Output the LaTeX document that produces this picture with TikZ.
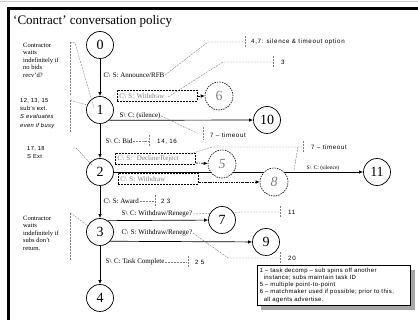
\documentclass[tikz,border=0pt]{standalone}
\usepackage{fontspec}
\setmainfont{Liberation Serif}
\setsansfont{Liberation Sans}
\newfontfamily\calfont[LetterSpace=10]{Liberation Sans}
\newfontfamily\legfont[LetterSpace=6]{Liberation Sans}
\usetikzlibrary{arrows.meta}
\pgfdeclarelayer{bg}
\pgfsetlayers{bg,main}
\newcommand\myC{C\textbackslash\hspace{2.5pt}}
\newcommand\myS{S\textbackslash\hspace{2.5pt}}
\tikzset{
 st/.style={circle, draw, line width=0.7pt, fill=white, minimum size=27pt, inner sep=0pt, font=\fontsize{14}{14}\selectfont},
 gst/.style={circle, draw, dash pattern=on 1.5pt off 1pt, line width=0.6pt, fill=white, minimum size=28pt, inner sep=0pt, text=gray, font=\fontsize{14}{14}\selectfont},
 arr/.style={-{Latex[length=4pt,width=3.5pt]}, line width=0.7pt},
 darr/.style={-{Latex[length=4pt,width=3.5pt]}, line width=0.6pt, dash pattern=on 2.5pt off 1pt on 0.8pt off 1pt},
 lbl/.style={font=\fontsize{7}{8}\selectfont, inner sep=0.5pt, anchor=west},
 glbl/.style={lbl, text=gray},
 lbox/.style={draw, dash pattern=on 2pt off 1pt, line width=0.7pt, inner sep=2pt, minimum height=11pt, align=left},
 lead/.style={draw=gray, line width=0.4pt, dash pattern=on 2pt off 1pt},
 bar/.style={draw=gray, line width=0.5pt, dash pattern=on 2pt off 1pt},
 ctxt/.style={font=\calfont\fontsize{6.2}{7}\selectfont, anchor=west, inner sep=0pt},
 note/.style={font=\fontsize{6.5}{7.4}\selectfont, align=left, anchor=north west, inner sep=0pt},
 snote/.style={font=\legfont\fontsize{5.8}{8.3}\selectfont, align=left, anchor=north west, inner sep=0pt},
}
\begin{document}
\begin{tikzpicture}[x=1pt,y=-1pt]
\useasboundingbox (0,0) rectangle (418,320);
% frame
\draw[gray!40, line width=1pt] (0,1.5) -- (418,1.5);
\draw[line width=2.7pt] (8.7,320) -- (8.7,8.7) -- (418,8.7);
\node[anchor=base west, font=\fontsize{13}{13}\selectfont, inner sep=0pt] (title) at (13,25) {`Contract' conversation policy};

% states
\node[st] (n0) at (100,45) {0};
\node[st] (n1) at (100,110) {1};
\node[st] (n2) at (100,172) {2};
\node[st] (n3) at (100,232) {3};
\node[st] (n4) at (100,298) {4};
\node[st] (n10) at (267,120) {10};
\node[st] (n11) at (377,172) {11};
\node[st] (n7) at (222,220) {7};
\node[st] (n9) at (266,242) {9};
\node[gst] (n6) at (219,96) {6};
\node[gst] (n5) at (222,164) {\textit{5}};
\node[gst] (n8) at (274,182) {\textit{8}};

% transitions
\draw[arr] (n0) -- (n1);
\draw[arr] (n1) -- (n2);
\draw[arr] (n2) -- (n3);
\draw[arr] (n3) -- (n4);
\draw[arr] (n1.-48) -- (n10);
\begin{pgfonlayer}{bg}
\draw[arr] (n2) -- (n11);
\end{pgfonlayer}
\draw[arr] (n3.55) -- (n7);
\draw[arr] (n3.-42) -- (n9);

% labels
\node[lbl] (l01) at (103,75) {\myC S: Announce/RFB};
\node[glbl, lbox, text width=76pt] (wd1) at (117,96) {\myC S: Withdraw};
\draw[darr] (wd1) -- (n6);
\node[lbl] (l110) at (119,116) {\myS C: (silence)};
\node[lbl] (l12) at (105,141) {\myS C: Bid};
\node[glbl, lbox, text width=76pt] (dr) at (115,159) {\myC S:\ \ Decline/Reject};
\draw[darr] ([yshift=-4pt]dr.east) -- (n5);
\node[glbl, lbox, text width=76pt] (wd2) at (118,179) {\myC S: Withdraw};
\draw[darr] ([yshift=-3pt]wd2.east) -- (n8);
\node[lbl] (law) at (103,201) {\myC S: Award};
\node[lbl] (l37) at (121,214) {\myS C: Withdraw/Renege?};
\node[lbl] (l39) at (121,233) {\myC S: Withdraw/Renege?};
\node[lbl] (l34) at (105,262) {\myS C:\ Task Complete};
\node[lbl, font=\fontsize{5.5}{6}\selectfont] (l211) at (306,168) {\myS C: (silence)};

% callouts
\draw[lead] (l01.east) -- (208,42) -- (245,42);
\draw[bar] (245,36) -- (245,48);
\node[ctxt] (c1) at (251,42) {4,7: silence \& timeout option};

\draw[lead] (168,97) -- (223,62) -- (273,62);
\draw[bar] (273,56) -- (273,68);
\node[ctxt] (c2) at (281,62) {3};

\draw[lead] (l110.east) -- (197,133) -- (203,133);
\draw[bar] (203,127) -- (203,140);
\node[ctxt] (c3) at (210,135) {7 \textendash\ timeout};

\draw[lead] (l12.east) -- (144,141) -- (149,141);
\draw[bar] (149,135) -- (149,147);
\node[ctxt] (c4) at (157,142) {14, 16};

\draw[lead] (190,154) -- (212,147) -- (303,147);
\draw[lead] (298,147) -- (294,170);
\draw[bar] (303,141) -- (303,153);
\node[ctxt] (c5) at (311,147) {7 \textendash\ timeout};

\draw[lead] (law.east) -- (154,201);
\draw[bar] (155,195) -- (155,207);
\node[ctxt] (c6) at (161,201) {2 3};

\begin{pgfonlayer}{bg}
\draw[lead] (l37.east) -- (243,212) -- (280,212);
\end{pgfonlayer}
\draw[bar] (280,206) -- (280,218);
\node[ctxt] (c7) at (288,212) {11};

\draw[lead] (l39.east) -- (228,258) -- (280,258);
\draw[bar] (280,252) -- (280,264);
\node[ctxt] (c8) at (288,258) {20};

\draw[lead] (l34.east) -- (187,262);
\draw[bar] (188,256) -- (188,268);
\node[ctxt] (c9) at (195,262) {2 5};

% left notes
\node[note] (na) at (23,43) {Contractor\\waits\\indefinitely if\\no bids\\recv'd?};
\draw[bar] (70,42) -- (70,95);
\draw[lead] (70,42) -- (75,43) -- (94,108);

\node[snote] (nb) at (20,98) {12, 13, 15\\sub's ext.\\\textit{S evaluates}\\\textit{even if busy}};
\draw[bar] (70,100) -- (70,132);
\draw[lead] (70,100) -- (73,101) -- (87,105);

\node[snote] (nc) at (27,146) {17, 18\\S Ext};
\draw[lead] (73,148) -- (76,148) -- (92,165);

\node[note] (nd) at (23,216) {Contractor\\waits\\indefinitely if\\subs don't\\return.};
\draw[bar] (70,213) -- (70,260);
\draw[lead] (70,213) -- (72,214) -- (88,226);

% legend
\node[draw, fill=white, line width=0.5pt, anchor=north west, inner sep=2.5pt, text width=148pt, align=left,
      font=\legfont\fontsize{6}{7.3}\selectfont] (lg) at (257,265)
 {1 \textendash\ task decomp \textendash\ sub spins off another\\
  \hspace*{4pt}instance; subs maintain task ID\\
  5 \textendash\ multiple point-to-point\\
  6 \textendash\ matchmaker used if possible; prior to this,\\
  \hspace*{4pt}all agents advertise.};
\begin{pgfonlayer}{bg}
\fill[gray!70] ([shift={(4pt,-5pt)}]lg.south west) rectangle ([shift={(4pt,-5pt)}]lg.north east);
\end{pgfonlayer}
\end{tikzpicture}
\end{document}
